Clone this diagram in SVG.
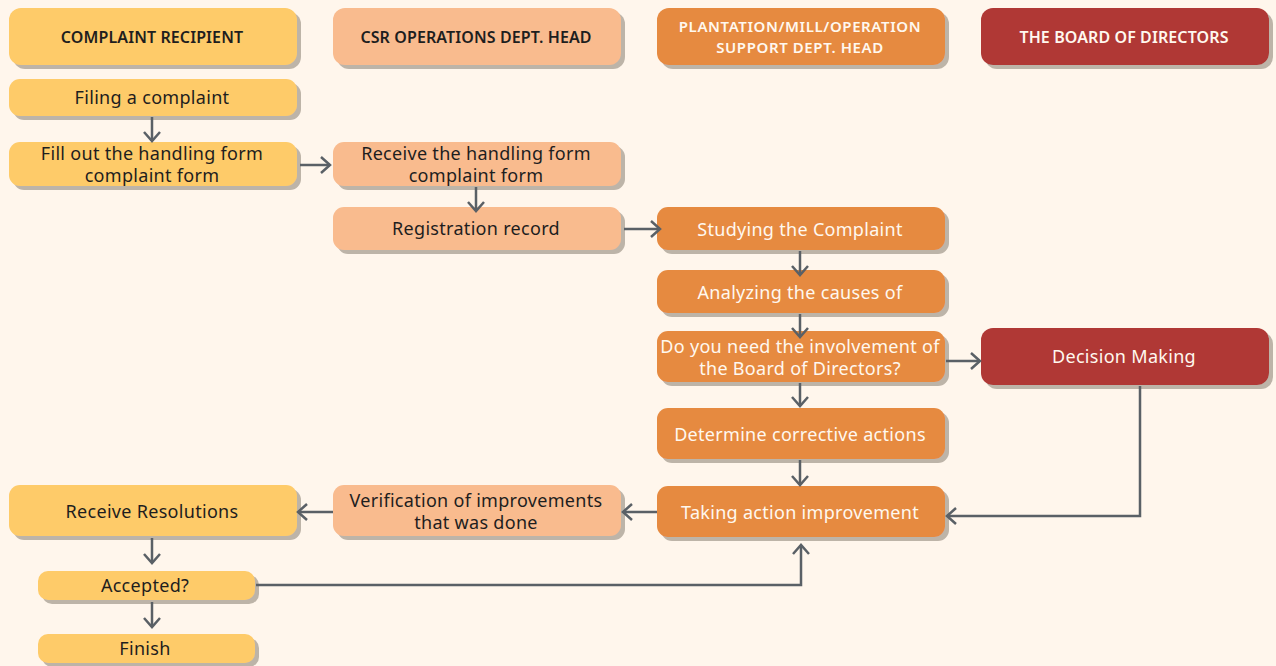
<svg xmlns="http://www.w3.org/2000/svg" width="1276" height="666" viewBox="0 0 1276 666">
<defs>
<filter id="sh" x="-5%" y="-20%" width="115%" height="150%">
<feOffset dx="4" dy="4" in="SourceAlpha" result="o"/>
<feFlood flood-color="#bdb4a8"/>
<feComposite in2="o" operator="in" result="s"/>
<feMerge><feMergeNode in="s"/><feMergeNode in="SourceGraphic"/></feMerge>
</filter>
<marker id="arr" markerUnits="userSpaceOnUse" markerWidth="20" markerHeight="20" refX="10" refY="9" orient="auto">
<path d="M1,1 L10,9 L1,17" fill="none" stroke="#5a6066" stroke-width="2.5"/>
</marker>
</defs>
<style>
.n{filter:url(#sh)}
.y{fill:#fecb69}
.p{fill:#f9bb8e}
.o{fill:#e68a40}
.r{fill:#b03836}
text{font-family:"Noto Sans","Open Sans",sans-serif;font-size:18px;letter-spacing:0.3px;text-anchor:middle;dominant-baseline:central}
.h{font-weight:600;font-size:16px;letter-spacing:0.1px}
.h2l{font-size:15px;letter-spacing:0.6px}
.dk{fill:#1e1e1e}
.wt{fill:#fff8ef}
.c{fill:none;stroke:#5a6066;stroke-width:2.5;marker-end:url(#arr)}
</style>
<rect width="1276" height="666" fill="#fff6ec"/>
<g id="h1"><rect class="n y" x="9" y="8" width="288" height="57" rx="12"/><text class="h dk" x="152" y="37">COMPLAINT RECIPIENT</text></g>
<g id="h2"><rect class="n p" x="333" y="8" width="288" height="57" rx="12"/><text class="h dk" x="476" y="37">CSR OPERATIONS DEPT. HEAD</text></g>
<g id="h3"><rect class="n o" x="657" y="8" width="288" height="57" rx="12"/><text class="h h2l wt" x="800" y="26">PLANTATION/MILL/OPERATION</text><text class="h h2l wt" x="800" y="47">SUPPORT DEPT. HEAD</text></g>
<g id="h4"><rect class="n r" x="981" y="8" width="288" height="57" rx="12"/><text class="h wt" x="1124" y="37">THE BOARD OF DIRECTORS</text></g>

<g id="filing"><rect class="n y" x="9" y="79" width="288" height="37" rx="11"/><text class="dk" x="152" y="97">Filing a complaint</text></g>
<g id="fillout"><rect class="n y" x="9" y="142" width="288" height="44" rx="11"/><text class="dk" x="152" y="153">Fill out the handling form</text><text class="dk" x="152" y="175">complaint form</text></g>
<g id="receiveform"><rect class="n p" x="333" y="142" width="288" height="44" rx="11"/><text class="dk" x="476" y="153">Receive the handling form</text><text class="dk" x="476" y="175">complaint form</text></g>
<g id="registration"><rect class="n p" x="333" y="207" width="288" height="43" rx="11"/><text class="dk" x="476" y="228">Registration record</text></g>
<g id="studying"><rect class="n o" x="657" y="207" width="288" height="43" rx="11"/><text class="wt" x="800" y="229">Studying the Complaint</text></g>
<g id="analyzing"><rect class="n o" x="657" y="270" width="288" height="43" rx="11"/><text class="wt" x="800" y="292">Analyzing the causes of</text></g>
<g id="doyou"><rect class="n o" x="657" y="331" width="288" height="51" rx="11"/><text class="wt" x="800" y="346">Do you need the involvement of</text><text class="wt" x="800" y="368">the Board of Directors?</text></g>
<g id="decision"><rect class="n r" x="981" y="328" width="288" height="57" rx="12"/><text class="wt" x="1124" y="356">Decision Making</text></g>
<g id="determine"><rect class="n o" x="657" y="408" width="288" height="51" rx="11"/><text class="wt" x="800" y="434">Determine corrective actions</text></g>
<g id="taking"><rect class="n o" x="657" y="486" width="288" height="51" rx="11"/><text class="wt" x="800" y="512">Taking action improvement</text></g>
<g id="verification"><rect class="n p" x="333" y="485" width="288" height="51" rx="11"/><text class="dk" x="476" y="500">Verification of improvements</text><text class="dk" x="476" y="522">that was done</text></g>
<g id="resolutions"><rect class="n y" x="9" y="485" width="288" height="51" rx="11"/><text class="dk" x="152" y="511">Receive Resolutions</text></g>
<g id="accepted"><rect class="n y" x="38" y="571" width="217" height="29" rx="10"/><text class="dk" x="145" y="585">Accepted?</text></g>
<g id="finish"><rect class="n y" x="38" y="634" width="217" height="29" rx="10"/><text class="dk" x="145" y="648">Finish</text></g>

<g id="connectors">
<path class="c" d="M152,117 V141"/>
<path class="c" d="M300,165 H330"/>
<path class="c" d="M476,187 V211"/>
<path class="c" d="M624,229 H660"/>
<path class="c" d="M800,251 V275"/>
<path class="c" d="M800,314 V337"/>
<path class="c" d="M946,361 H980"/>
<path class="c" d="M800,383 V406"/>
<path class="c" d="M800,460 V485"/>
<path class="c" d="M1140,386 V516 H947"/>
<path class="c" d="M657,512 H623"/>
<path class="c" d="M333,512 H298"/>
<path class="c" d="M152,538 V563"/>
<path class="c" d="M256,585 H801 V545"/>
<path class="c" d="M152,602 V627"/>
</g>
</svg>
